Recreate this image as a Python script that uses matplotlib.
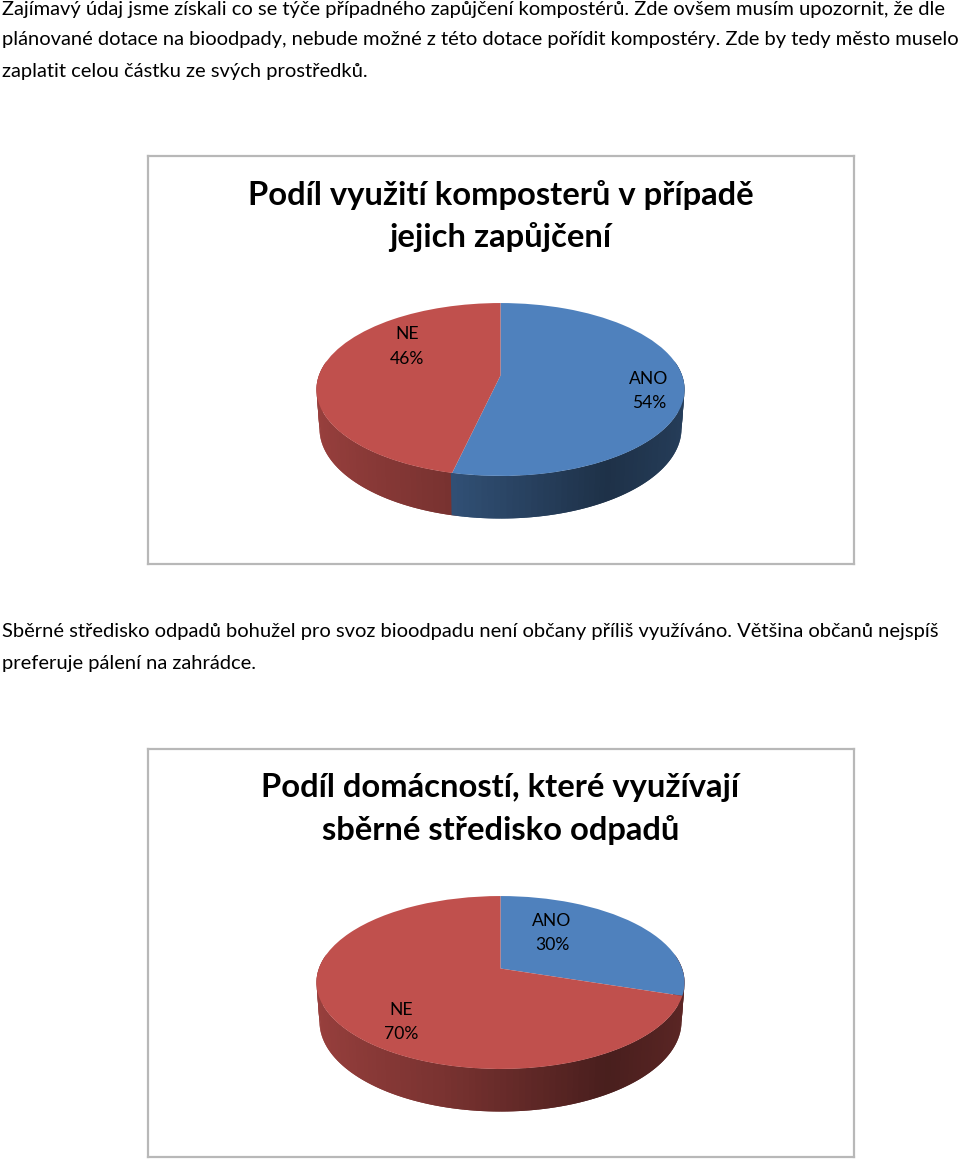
import numpy as np
import matplotlib
matplotlib.use('Agg')
import matplotlib.pyplot as plt
from matplotlib.transforms import Transform

# chart data
titles_1 = ['Podíl využití komposterů v případě', 'jejich zapůjčení']
titles_2 = ['Podíl domácností, které využívají', 'sběrné středisko odpadů']
labels = ['ANO', 'NE']
values_1 = [53.6, 46.4]  # labelled 54 % and 46 %, slice edge reads a bit under 54
values_2 = [30, 70]
colors = ['#4f81bd', '#c0504d']

# text around the charts
para_1 = ['Zajímavý údaj jsme získali co se týče případného zapůjčení kompostérů. Zde ovšem musím upozornit, že dle',
          'plánované dotace na bioodpady, nebude možné z této dotace pořídit kompostéry. Zde by tedy město muselo',
          'zaplatit celou částku ze svých prostředků.']
para_2 = ['Sběrné středisko odpadů bohužel pro svoz bioodpadu není občany příliš využíváno. Většina občanů nejspíš',
          'preferuje pálení na zahrádce.']

W, H = 960, 1160
plt.rcParams['font.family'] = ['Lato', 'DejaVu Sans']


class TiltedDisc(Transform):
    # unit circle -> pixels from the pie apex, with a bit of perspective
    input_dims = 2
    output_dims = 2
    is_separable = False
    has_inverse = False

    def __init__(self, cx, sy, k, dy):
        super().__init__()
        self.cx, self.sy, self.k, self.dy = cx, sy, k, dy

    def transform_non_affine(self, xy):
        xy = np.asarray(xy)
        w = 1 + self.k * xy[:, 1]
        return np.column_stack([self.cx * xy[:, 0] / w, self.sy * xy[:, 1] / w + self.dy])


top_disc = TiltedDisc(181.6, 84.2, 0.162, 0)
bottom_disc = TiltedDisc(178.6, 87.6, 0.162, -38.5)


def shade(u):
    return np.interp(u, [0, 0.37, 0.75, 1], [0.80, 0.63, 0.38, 0.48])


def draw_chart(fig, frame_top, values, titles, label_spots, title_size):
    # frame is 706x408 px, pie apex sits 219.5 px below its top
    ax = fig.add_axes([148 / W, 1 - (frame_top + 408) / H, 706 / W, 408 / H])
    wedges, _ = ax.pie(values, colors=colors, startangle=90, counterclock=False,
                       wedgeprops={'linewidth': 0}, frame=True)
    ax.set_aspect('auto')
    ax.set_xlim(-352.5, 353.5)
    ax.set_ylim(-188.5, 219.5)
    ax.set_xticks([])
    ax.set_yticks([])
    for s in ax.spines.values():
        s.set_color('#b8b8b8')
        s.set_linewidth(1.6)

    # side wall, strip by strip along the front of the disc
    # each strip runs over into the next one so no seams show
    edges = np.cumsum(values) * 3.6
    angles = np.radians(np.linspace(170, 370, 121))
    for i in range(len(angles) - 2):
        a0, a1 = angles[i], angles[i + 2]
        mid = np.degrees(angles[i] + angles[i + 1]) / 2
        look = min(mid, 330)  # the right end of the wall takes the colour of what is in front of it
        idx = min(np.searchsorted(edges, (90 - look) % 360), len(values) - 1)
        rgb = np.array(matplotlib.colors.to_rgb(colors[idx])) * shade((np.cos(np.radians(mid)) + 1) / 2)
        rim = np.array([[np.cos(a), np.sin(a)] for a in (a0, (a0 + a1) / 2, a1)])
        pts = np.vstack([top_disc.transform(rim), bottom_disc.transform(rim)[::-1]])
        ax.fill(pts[:, 0], pts[:, 1], color=rgb, lw=0, zorder=1)

    for w in wedges:
        w.set_transform(top_disc + ax.transData)
        w.set_zorder(2)

    for name, val, (x, y) in zip(labels, values, label_spots):
        ax.text(x, y, f'{name}\n{val:.0f}%', ha='center', va='center', fontsize=12.6,
                color='black', linespacing=1.67, zorder=3)

    for line, y in zip(titles, [39, 81]):
        ax.text(0, 219.5 - y, line, ha='center', va='center', fontsize=title_size,
                fontweight='bold', color='black')


fig = plt.figure(figsize=(W / 100, H / 100), dpi=100, facecolor='white')

for line, y in zip(para_1, [9, 40, 71]):
    fig.text(2 / W, 1 - y / H, line, ha='left', va='center', fontsize=14.5, color='black')
for line, y in zip(para_2, [632, 663]):
    fig.text(2 / W, 1 - y / H, line, ha='left', va='center', fontsize=14.5, color='black')

draw_chart(fig, 156, values_1, titles_1, [(148.5, -15.5), (-93.5, 29)], 23.6)
draw_chart(fig, 749, values_2, titles_2, [(51.5, 35.5), (-99.5, -53.5)], 23.6)

fig.savefig('out.png', dpi=100, facecolor='white')
